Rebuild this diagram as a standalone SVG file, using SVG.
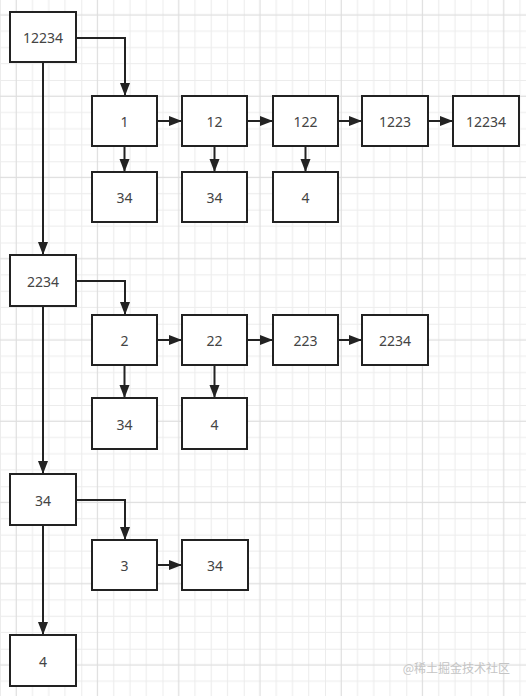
<svg xmlns="http://www.w3.org/2000/svg" width="526" height="696" viewBox="0 0 526 696">
<style>
.n rect{fill:#fff;stroke:#222;stroke-width:2}
.n text{font-family:"Noto Sans","Open Sans",sans-serif;font-size:14px;fill:#444;text-anchor:middle;dominant-baseline:central}
.c path{fill:none;stroke:#222;stroke-width:2;marker-end:url(#ah)}
</style>
<defs>
<pattern id="g" x="0" y="-1.25" width="81.25" height="81.25" patternUnits="userSpaceOnUse">
<path d="M0.5,0V81.25M32.5,0V81.25M48.75,0V81.25M65,0V81.25M0,0.5H81.25M0,32.5H81.25M0,48.75H81.25M0,65H81.25" stroke="#ececec" stroke-width="1" fill="none"/>
<path d="M16.25,0V81.25M0,16.25H81.25" stroke="#dedede" stroke-width="1.2" fill="none"/>
</pattern>
<marker id="ah" markerUnits="userSpaceOnUse" markerWidth="14" markerHeight="12" refX="13" refY="5" orient="auto" viewBox="0 0 14 10">
<path d="M0,0L13,5L0,10Z" fill="#222"/>
</marker>
</defs>
<rect width="526" height="696" fill="#fff"/>
<rect width="526" height="696" fill="url(#g)"/>
<g class="c" id="connectors">
<path d="M76,38H125V96"/>
<path d="M43,62V255"/>
<path d="M157,121H182"/>
<path d="M247,121H273"/>
<path d="M338,121H362"/>
<path d="M428,121H453"/>
<path d="M124.5,146V172"/>
<path d="M214.5,146V172"/>
<path d="M305.5,146V172"/>
<path d="M76,281H125V315"/>
<path d="M43,306V474"/>
<path d="M157,340H182"/>
<path d="M247,340H273"/>
<path d="M338,340H362"/>
<path d="M124.5,365V398"/>
<path d="M214.5,365V398"/>
<path d="M76,500H125V540"/>
<path d="M43,525V635"/>
<path d="M157,565H182"/>
</g>
<g class="n" id="n_12234"><rect x="10" y="12" width="66" height="50"/><text x="43" y="37">12234</text></g>
<g class="n" id="n_1"><rect x="92" y="96" width="65" height="50"/><text x="124.5" y="121">1</text></g>
<g class="n" id="n_12"><rect x="182" y="96" width="65" height="50"/><text x="214.5" y="121">12</text></g>
<g class="n" id="n_122"><rect x="273" y="96" width="65" height="50"/><text x="305.5" y="121">122</text></g>
<g class="n" id="n_1223"><rect x="362" y="96" width="66" height="50"/><text x="395" y="121">1223</text></g>
<g class="n" id="n_12234b"><rect x="453" y="96" width="66" height="50"/><text x="486" y="121">12234</text></g>
<g class="n" id="n_34a"><rect x="92" y="172" width="65" height="50"/><text x="124.5" y="197">34</text></g>
<g class="n" id="n_34b"><rect x="182" y="172" width="65" height="50"/><text x="214.5" y="197">34</text></g>
<g class="n" id="n_4a"><rect x="273" y="172" width="65" height="50"/><text x="305.5" y="197">4</text></g>
<g class="n" id="n_2234"><rect x="10" y="255" width="66" height="51"/><text x="43" y="281">2234</text></g>
<g class="n" id="n_2"><rect x="92" y="315" width="65" height="50"/><text x="124.5" y="340">2</text></g>
<g class="n" id="n_22"><rect x="182" y="315" width="65" height="50"/><text x="214.5" y="340">22</text></g>
<g class="n" id="n_223"><rect x="273" y="315" width="65" height="50"/><text x="305.5" y="340">223</text></g>
<g class="n" id="n_2234b"><rect x="362" y="315" width="66" height="50"/><text x="395" y="340">2234</text></g>
<g class="n" id="n_34c"><rect x="92" y="398" width="65" height="51"/><text x="124.5" y="424">34</text></g>
<g class="n" id="n_4b"><rect x="182" y="398" width="65" height="51"/><text x="214.5" y="424">4</text></g>
<g class="n" id="n_34"><rect x="10" y="474" width="66" height="51"/><text x="43" y="500">34</text></g>
<g class="n" id="n_3"><rect x="92" y="540" width="65" height="50"/><text x="124.5" y="565">3</text></g>
<g class="n" id="n_34d"><rect x="182" y="540" width="66" height="50"/><text x="215" y="565">34</text></g>
<g class="n" id="n_4"><rect x="10" y="635" width="66" height="51"/><text x="43" y="661">4</text></g>
<text x="510" y="673" text-anchor="end" font-family="Noto Sans CJK SC, sans-serif" font-size="12" fill="#c4c4c4">@稀土掘金技术社区</text>
</svg>
